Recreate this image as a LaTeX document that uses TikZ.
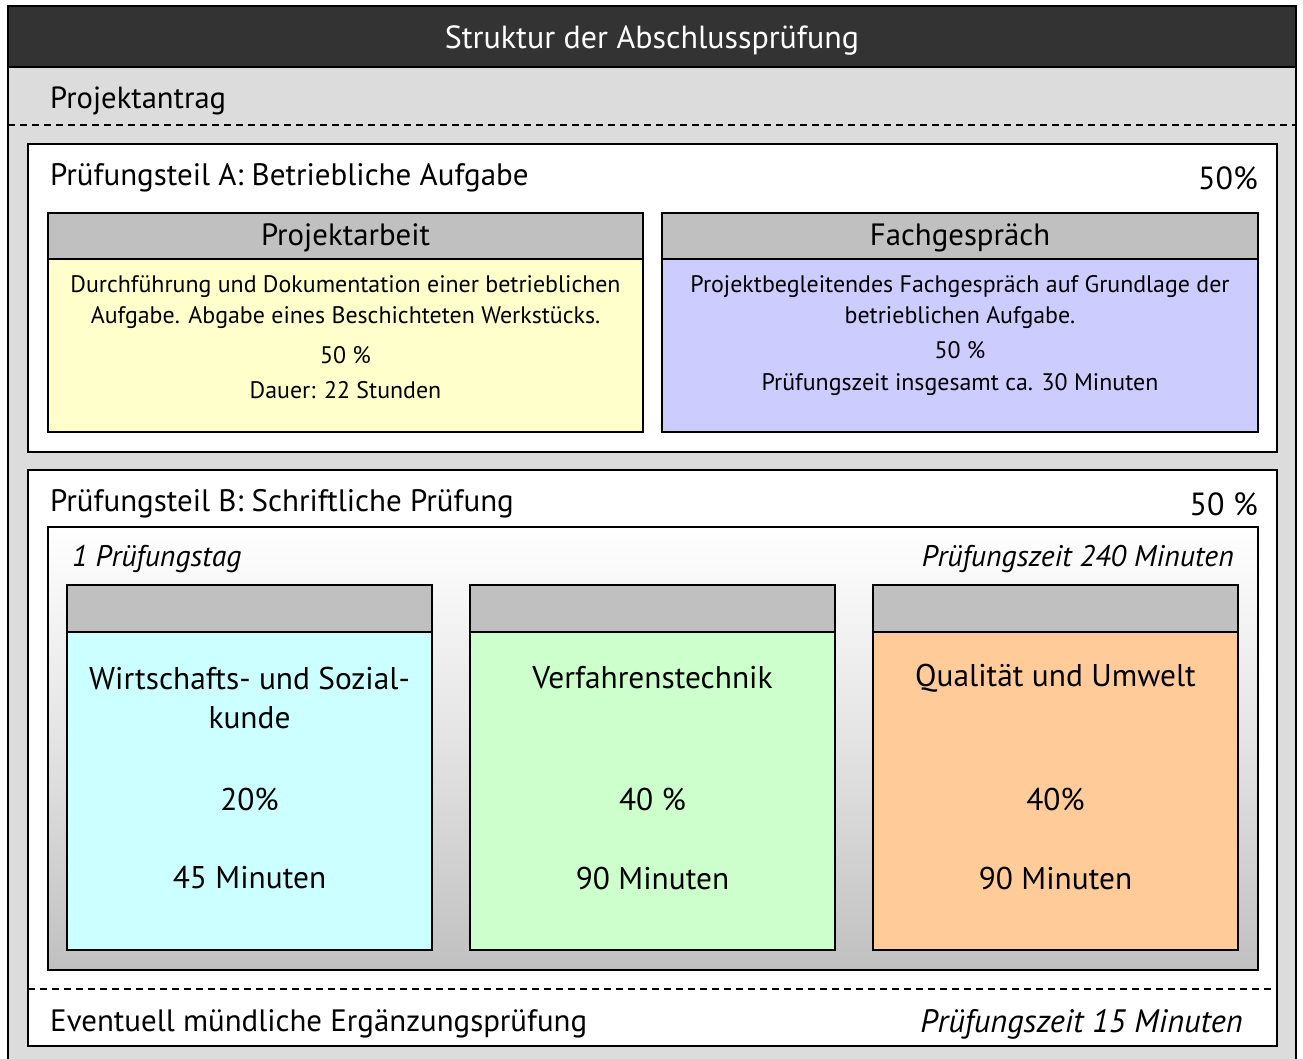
\documentclass[tikz,border=0pt]{standalone}
\usepackage{fontspec}
\setmainfont{PT Sans}
\usetikzlibrary{positioning}
\definecolor{darkhead}{HTML}{333333}
\definecolor{outergray}{HTML}{DCDCDC}
\definecolor{headgray}{HTML}{C0C0C0}
\definecolor{paYellow}{HTML}{FFFFCC}
\definecolor{fgBlue}{HTML}{CCCCFF}
\definecolor{wsCyan}{HTML}{CCFFFF}
\definecolor{vtGreen}{HTML}{CCFFCC}
\definecolor{quOrange}{HTML}{FFCC99}
\newcommand{\fsz}[1]{\fontsize{#1}{#1}\selectfont}
\tikzset{
  framebox/.style={draw=black, line width=1.6pt, inner sep=0pt, outer sep=0pt, anchor=north west},
  cardbox/.style={draw=black, line width=1.4pt, inner sep=0pt, outer sep=0pt, anchor=north west},
  bigtitle/.style={inner sep=0pt, anchor=west, font=\fsz{30.6}},
  subtitle/.style={inner sep=0pt, anchor=west, font=\fsz{31}},
  pcttext/.style={inner sep=0pt, anchor=east, font=\fsz{32}},
  cardhead/.style={inner sep=0pt, font=\fsz{30.8}},
  bodytext/.style={inner sep=0pt, font=\fsz{23.9}},
  bigtext/.style={inner sep=0pt, font=\fsz{31.4}},
  ittext/.style={inner sep=0pt, font=\fsz{29.8}\itshape},
  sepline/.style={dashed, line width=1.3pt, dash pattern=on 7pt off 5pt},
}
\begin{document}
\begin{tikzpicture}[x=1pt,y=-1pt]
\useasboundingbox (0,0) rectangle (1303,1058);
% outer frame
\node[framebox, fill=outergray, line width=2pt, minimum width=1288pt, minimum height=1064pt] (outer) at (8,6) {};
\node[framebox, fill=darkhead, line width=2pt, minimum width=1288pt, minimum height=61pt] (head) at (8,6) {};
\node[inner sep=0pt, text=white, font=\fsz{32}] (title) at (652,40) {Struktur der Abschlussprüfung};
\node[bigtitle] (antrag) at (50,101) {Projektantrag};
\coordinate (dl1) at (8,125);
\coordinate (dr1) at (1296,125);
\draw[sepline] (dl1) -- (dr1);

% Teil A
\node[framebox, fill=white, minimum width=1249pt, minimum height=308pt] (teilA) at (28,144) {};
\node[subtitle] (teilAtitle) at (50,178) {Prüfungsteil A: Betriebliche Aufgabe};
\node[pcttext] (teilApct) at (1258,178) {50\%};

\node[cardbox, fill=paYellow, minimum width=595pt, minimum height=219pt] (pa) at (48,213) {};
\node[cardbox, fill=headgray, minimum width=595pt, minimum height=46pt] (pahead) at (48,213) {};
\node[cardhead, yshift=-2pt] (patitle) at (pahead.center) {Projektarbeit};
\node[bodytext] (pa1) at (345.5,287) {Durchführung und Dokumentation einer betrieblichen};
\node[bodytext] (pa2) at (345.5,318) {Aufgabe. Abgabe eines Beschichteten Werkstücks.};
\node[bodytext] (pa3) at (345.5,355) {50 \%};
\node[bodytext] (pa4) at (345.5,390) {Dauer: 22 Stunden};

\node[cardbox, fill=fgBlue, minimum width=596pt, minimum height=219pt] (fg) at (662,213) {};
\node[cardbox, fill=headgray, minimum width=596pt, minimum height=46pt] (fghead) at (662,213) {};
\node[cardhead, yshift=-2pt] (fgtitle) at (fghead.center) {Fachgespräch};
\node[bodytext] (fg1) at (960,287) {Projektbegleitendes Fachgespräch auf Grundlage der};
\node[bodytext] (fg2) at (960,318) {betrieblichen Aufgabe.};
\node[bodytext] (fg3) at (960,350) {50 \%};
\node[bodytext] (fg4) at (960,385) {Prüfungszeit insgesamt ca. 30 Minuten};

% Teil B
\node[framebox, fill=white, minimum width=1249pt, minimum height=576pt] (teilB) at (28,470) {};
\node[subtitle] (teilBtitle) at (50,504) {Prüfungsteil B: Schriftliche Prüfung};
\node[pcttext] (teilBpct) at (1258,504) {50 \%};

\node[framebox, line width=1.4pt, top color=white, bottom color=headgray, middle color=white!55!headgray, minimum width=1210pt, minimum height=443pt] (panel) at (48,527) {};
\node[ittext, anchor=west] (tag) at (72,559) {1 Prüfungstag};
\node[ittext, anchor=east] (zeit240) at (1234,559) {Prüfungszeit 240 Minuten};

\foreach \nm/\xx/\col in {ws/67/wsCyan, vt/470/vtGreen, qu/873/quOrange}{
  \node[cardbox, fill=\col, minimum width=365pt, minimum height=365pt] (\nm) at (\xx,585) {};
  \node[cardbox, fill=headgray, minimum width=365pt, minimum height=47pt] (\nm head) at (\xx,585) {};
}
\node[bigtext] (ws1) at (249.5,678) {Wirtschafts- und Sozial-};
\node[bigtext] (ws2) at (249.5,718) {kunde};
\node[bigtext] (ws3) at (249.5,799) {20\%};
\node[bigtext] (ws4) at (249.5,878) {45 Minuten};
\node[bigtext] (vt1) at (652.5,678) {Verfahrenstechnik};
\node[bigtext] (vt3) at (652.5,799) {40 \%};
\node[bigtext] (vt4) at (652.5,878) {90 Minuten};
\node[bigtext] (qu1) at (1055.5,678) {Qualität und Umwelt};
\node[bigtext] (qu3) at (1055.5,799) {40\%};
\node[bigtext] (qu4) at (1055.5,878) {90 Minuten};

\coordinate (dl2) at (28,989);
\coordinate (dr2) at (1277,989);
\draw[sepline] (dl2) -- (dr2);
\node[inner sep=0pt, anchor=west, font=\fsz{30.9}] (muendl) at (50,1024) {Eventuell mündliche Ergänzungsprüfung};
\node[ittext, anchor=east, font=\fsz{32.4}\itshape] (zeit15) at (1243,1024) {Prüfungszeit 15 Minuten};
\end{tikzpicture}
\end{document}
